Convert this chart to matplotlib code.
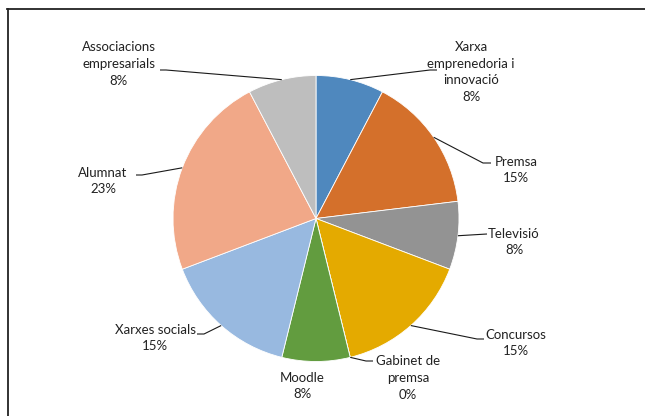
import matplotlib
matplotlib.use("Agg")
import matplotlib.pyplot as plt
import numpy as np
from matplotlib.lines import Line2D

# data (counts, shown as percent of total)
categories = ["Xarxa\nemprenedoria i\ninnovació", "Premsa", "Televisió", "Concursos",
              "Gabinet de\npremsa", "Moodle", "Xarxes socials", "Alumnat",
              "Associacions\nempresarials"]
counts = [1, 2, 1, 2, 0, 1, 2, 3, 1]
colors = ["#4F88BE", "#D4702B", "#939393", "#E4AA00", "#3D6BB5",
          "#629C3F", "#98B9E0", "#F1A888", "#BEBEBE"]

W, H = 645, 416
CX, CY, R = 316, 218.5, 143  # pie centre / radius in pixels


def px(x, y):
    # pixel (from top-left) -> data units of the pie axes
    return (x - CX) / R, (CY - y) / R


# label layout in pixels: text centre, then leader points after the wedge edge
layout = [
    ((471, 72), [(430, 70), (437, 70)]),
    ((516, 170), [(483, 163), (491, 163)]),
    ((514, 242), [(487, 234)]),
    ((516, 343), [(477, 339), (484, 339)]),
    ((408, 378), [(366, 361), (373, 361)]),
    ((302, 386), []),
    ((155, 338), [(204, 334), (197, 334)]),
    ((103, 181), [(142, 175), (136, 175)]),
    ((119, 64), [(166, 70), (160, 70)]),
]

plt.rcParams['font.family'] = ['Lato', 'DejaVu Sans']

fig = plt.figure(figsize=(W / 100, H / 100), dpi=100)
ax = fig.add_axes([0, 0, 1, 1])

total = sum(counts)
wedges, _ = ax.pie(counts, colors=colors, startangle=90, counterclock=False,
                   radius=1, wedgeprops=dict(edgecolor="white", linewidth=0.6))

x0, y0 = px(0, H)
x1, y1 = px(W, 0)
ax.set_xlim(x0, x1)
ax.set_ylim(y0, y1)
ax.set_aspect("auto")
ax.axis("off")

for w, name, n, (tpos, pts) in zip(wedges, categories, counts, layout):
    mid = np.deg2rad((w.theta1 + w.theta2) / 2)
    ex, ey = np.cos(mid), np.sin(mid)
    if pts:
        xs = [ex] + [px(*p)[0] for p in pts]
        ys = [ey] + [px(*p)[1] for p in pts]
        ax.plot(xs, ys, color="#1a1a1a", lw=0.8, solid_capstyle="butt")
    tx, ty = px(*tpos)
    pct = "{:.0f}%".format(100 * n / total)
    ax.text(tx, ty, name + "\n" + pct, ha="center", va="center",
            fontsize=9.5, color="#222222", linespacing=1.48)

# chart border (only top and left edges fall inside the picture)
fig.add_artist(Line2D([7.5 / W, 7.5 / W], [0, 1 - 8.5 / H], transform=fig.transFigure,
                      color="#222222", lw=1.3))
fig.add_artist(Line2D([7 / W, 1], [1 - 8.5 / H, 1 - 8.5 / H], transform=fig.transFigure,
                      color="#222222", lw=1.3))

fig.savefig("out.png", dpi=100)
